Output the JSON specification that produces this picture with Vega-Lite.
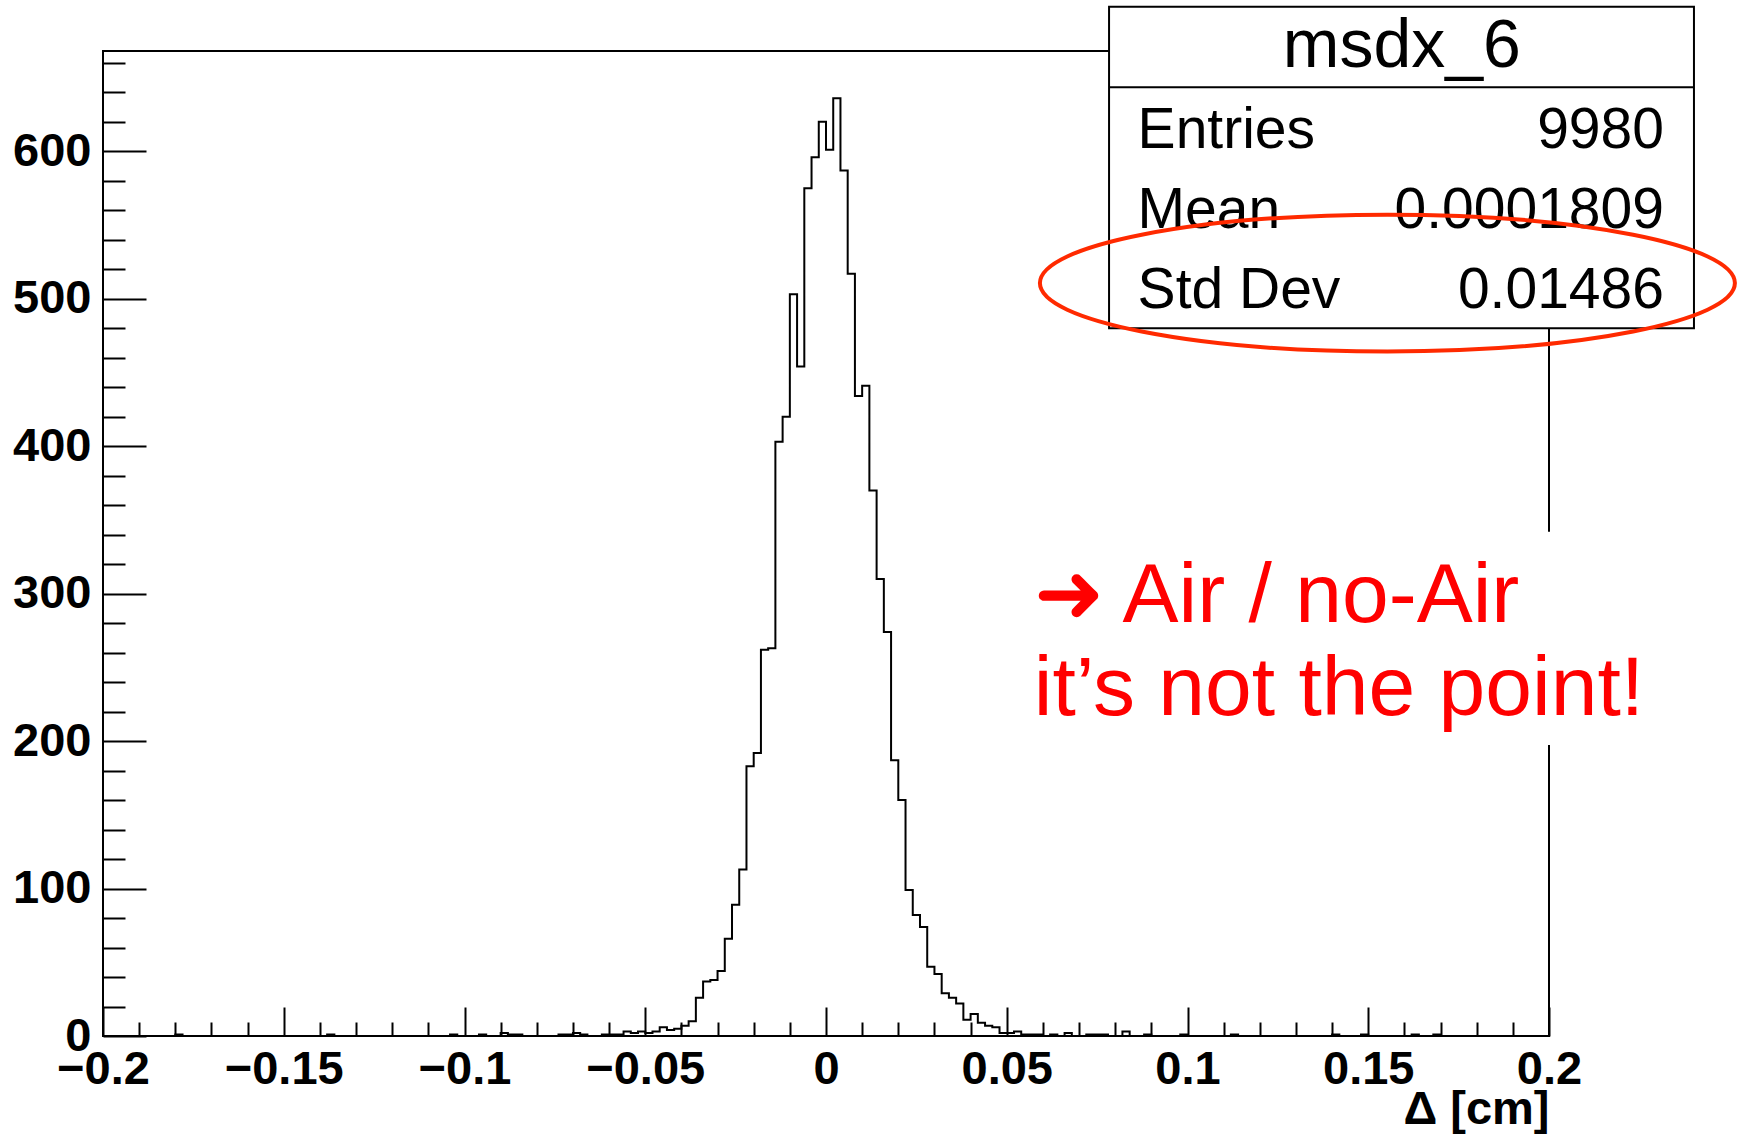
{
  "$schema": "https://vega.github.io/schema/vega-lite/v6.json",
  "autosize": {"type": "none"},
  "width": 1446,
  "height": 985,
  "padding": {"left": 103, "top": 51, "right": 195, "bottom": 100},
  "background": "white",
  "config": {"view": {"stroke": null}, "font": "Liberation Sans"},
  "datasets": {
    "one": [{}],
    "bins": [
      {"x":-0.2,"n":0},{"x":-0.198,"n":0},{"x":-0.196,"n":0},{"x":-0.194,"n":0},{"x":-0.192,"n":0},{"x":-0.19,"n":0},{"x":-0.188,"n":0},{"x":-0.186,"n":0},{"x":-0.184,"n":0},{"x":-0.182,"n":0},
      {"x":-0.18,"n":1},{"x":-0.178,"n":0},{"x":-0.176,"n":0},{"x":-0.174,"n":0},{"x":-0.172,"n":0},{"x":-0.17,"n":0},{"x":-0.168,"n":0},{"x":-0.166,"n":0},{"x":-0.164,"n":0},{"x":-0.162,"n":0},
      {"x":-0.16,"n":0},{"x":-0.158,"n":0},{"x":-0.156,"n":0},{"x":-0.154,"n":0},{"x":-0.152,"n":0},{"x":-0.15,"n":0},{"x":-0.148,"n":0},{"x":-0.146,"n":0},{"x":-0.144,"n":0},{"x":-0.142,"n":0},
      {"x":-0.14,"n":0},{"x":-0.138,"n":1},{"x":-0.136,"n":0},{"x":-0.134,"n":0},{"x":-0.132,"n":0},{"x":-0.13,"n":0},{"x":-0.128,"n":0},{"x":-0.126,"n":0},{"x":-0.124,"n":0},{"x":-0.122,"n":0},
      {"x":-0.12,"n":0},{"x":-0.118,"n":0},{"x":-0.116,"n":0},{"x":-0.114,"n":0},{"x":-0.112,"n":0},{"x":-0.11,"n":0},{"x":-0.108,"n":0},{"x":-0.106,"n":0},{"x":-0.104,"n":1},{"x":-0.102,"n":0},
      {"x":-0.1,"n":0},{"x":-0.098,"n":0},{"x":-0.096,"n":1},{"x":-0.094,"n":0},{"x":-0.092,"n":0},{"x":-0.09,"n":2},{"x":-0.088,"n":1},{"x":-0.086,"n":1},{"x":-0.084,"n":0},{"x":-0.082,"n":0},
      {"x":-0.08,"n":0},{"x":-0.078,"n":0},{"x":-0.076,"n":0},{"x":-0.074,"n":1},{"x":-0.072,"n":1},{"x":-0.07,"n":2},{"x":-0.068,"n":1},{"x":-0.066,"n":0},{"x":-0.064,"n":0},{"x":-0.062,"n":1},
      {"x":-0.06,"n":1},{"x":-0.058,"n":1},{"x":-0.056,"n":3},{"x":-0.054,"n":2},{"x":-0.052,"n":3},{"x":-0.05,"n":2},{"x":-0.048,"n":3},{"x":-0.046,"n":6},{"x":-0.044,"n":4},{"x":-0.042,"n":5},
      {"x":-0.04,"n":7},{"x":-0.038,"n":10},{"x":-0.036,"n":26},{"x":-0.034,"n":37},{"x":-0.032,"n":38},{"x":-0.03,"n":44},{"x":-0.028,"n":66},{"x":-0.026,"n":89},{"x":-0.024,"n":113},{"x":-0.022,"n":183},
      {"x":-0.02,"n":192},{"x":-0.018,"n":262},{"x":-0.016,"n":263},{"x":-0.014,"n":403},{"x":-0.012,"n":420},{"x":-0.01,"n":503},{"x":-0.008,"n":454},{"x":-0.006,"n":575},{"x":-0.004,"n":596},{"x":-0.002,"n":620},
      {"x":0,"n":601},{"x":0.002,"n":636},{"x":0.004,"n":587},{"x":0.006,"n":517},{"x":0.008,"n":434},{"x":0.01,"n":441},{"x":0.012,"n":370},{"x":0.014,"n":310},{"x":0.016,"n":274},{"x":0.018,"n":187},
      {"x":0.02,"n":160},{"x":0.022,"n":99},{"x":0.024,"n":82},{"x":0.026,"n":74},{"x":0.028,"n":47},{"x":0.03,"n":42},{"x":0.032,"n":29},{"x":0.034,"n":26},{"x":0.036,"n":22},{"x":0.038,"n":11},
      {"x":0.04,"n":15},{"x":0.042,"n":9},{"x":0.044,"n":7},{"x":0.046,"n":6},{"x":0.048,"n":2},{"x":0.05,"n":2},{"x":0.052,"n":3},{"x":0.054,"n":1},{"x":0.056,"n":1},{"x":0.058,"n":1},
      {"x":0.06,"n":0},{"x":0.062,"n":1},{"x":0.064,"n":0},{"x":0.066,"n":2},{"x":0.068,"n":0},{"x":0.07,"n":0},{"x":0.072,"n":1},{"x":0.074,"n":1},{"x":0.076,"n":1},{"x":0.078,"n":0},
      {"x":0.08,"n":0},{"x":0.082,"n":3},{"x":0.084,"n":0},{"x":0.086,"n":0},{"x":0.088,"n":1},{"x":0.09,"n":0},{"x":0.092,"n":0},{"x":0.094,"n":0},{"x":0.096,"n":0},{"x":0.098,"n":1},
      {"x":0.1,"n":0},{"x":0.102,"n":0},{"x":0.104,"n":0},{"x":0.106,"n":0},{"x":0.108,"n":0},{"x":0.11,"n":0},{"x":0.112,"n":1},{"x":0.114,"n":0},{"x":0.116,"n":0},{"x":0.118,"n":0},
      {"x":0.12,"n":0},{"x":0.122,"n":0},{"x":0.124,"n":0},{"x":0.126,"n":0},{"x":0.128,"n":0},{"x":0.13,"n":0},{"x":0.132,"n":0},{"x":0.134,"n":0},{"x":0.136,"n":0},{"x":0.138,"n":0},
      {"x":0.14,"n":1},{"x":0.142,"n":0},{"x":0.144,"n":0},{"x":0.146,"n":0},{"x":0.148,"n":1},{"x":0.15,"n":0},{"x":0.152,"n":0},{"x":0.154,"n":0},{"x":0.156,"n":0},{"x":0.158,"n":0},
      {"x":0.16,"n":0},{"x":0.162,"n":1},{"x":0.164,"n":0},{"x":0.166,"n":0},{"x":0.168,"n":1},{"x":0.17,"n":0},{"x":0.172,"n":0},{"x":0.174,"n":0},{"x":0.176,"n":0},{"x":0.178,"n":0},
      {"x":0.18,"n":0},{"x":0.182,"n":0},{"x":0.184,"n":0},{"x":0.186,"n":0},{"x":0.188,"n":0},{"x":0.19,"n":0},{"x":0.192,"n":0},{"x":0.194,"n":0},{"x":0.196,"n":0},{"x":0.198,"n":0},
      {"x":0.2,"n":0}
    ]
  },
  "resolve": {"axis": {"x": "independent", "y": "independent"}},
  "layer": [
    {
      "layer": [
        {
          "data": {"name": "bins"},
          "mark": {"type": "line", "interpolate": "step-after", "stroke": "black", "strokeWidth": 2},
          "encoding": {
            "x": {
              "field": "x", "type": "quantitative",
              "scale": {"domain": [-0.2, 0.2], "nice": false, "zero": false},
              "axis": {
                "orient": "bottom",
                "title": "Δ [cm]", "titleFont": "Liberation Sans", "titleFontWeight": "bold", "titleFontSize": 47, "titleColor": "black",
                "titleAnchor": "end", "titleAlign": "right", "titleBaseline": "alphabetic", "titleY": 87,
                "values": [-0.2,-0.15,-0.1,-0.05,0,0.05,0.1,0.15,0.2],
                "format": "~g",
                "domain": false, "grid": false,
                "tickColor": "black", "tickWidth": 2, "tickSize": -29,
                "labelFont": "Liberation Sans", "labelFontWeight": "bold", "labelFontSize": 47, "labelColor": "black",
                "labelFlush": false, "labelOverlap": false, "labelBound": false, "labelPadding": 39, "labelBaseline": "top"
              }
            },
            "y": {
              "field": "n", "type": "quantitative",
              "scale": {"domain": [0, 668], "nice": false, "zero": true},
              "axis": {
                "orient": "left",
                "title": null,
                "values": [0,100,200,300,400,500,600],
                "format": "d",
                "domain": false, "grid": false,
                "tickColor": "black", "tickWidth": 2, "tickSize": -43,
                "labelFont": "Liberation Sans", "labelFontWeight": "bold", "labelFontSize": 47, "labelColor": "black",
                "labelFlush": false, "labelOverlap": false, "labelBound": false, "labelPadding": 55, "labelBaseline": "middle"
              }
            }
          }
        },
        {
          "data": {"name": "one"},
          "mark": {"type": "rule", "stroke": "black", "strokeWidth": 2, "strokeCap": "square"},
          "encoding": {"x": {"datum": 0.2}, "y": {"datum": 0}, "y2": {"datum": 668}}
        },
        {
          "data": {"name": "one"},
          "mark": {"type": "rule", "stroke": "black", "strokeWidth": 2, "strokeCap": "square"},
          "encoding": {"y": {"datum": 0}, "x": {"datum": -0.2}, "x2": {"datum": 0.2}}
        },
        {
          "data": {"name": "one"},
          "mark": {"type": "rule", "stroke": "black", "strokeWidth": 2, "strokeCap": "square"},
          "encoding": {"y": {"datum": 668}, "x": {"datum": -0.2}, "x2": {"datum": 0.2}}
        },
        {
          "data": {"name": "one"},
          "mark": {"type": "rect", "fill": "white", "strokeWidth": 0},
          "encoding": {"x": {"datum": 0.0564}, "x2": {"datum": 0.22}, "y": {"datum": 342}, "y2": {"datum": 197.3}}
        },
        {
          "data": {"name": "one"},
          "mark": {"type": "text", "align": "left", "baseline": "alphabetic", "font": "Liberation Sans", "fontSize": 84, "lineHeight": 93, "fill": "#ff0000"},
          "encoding": {"x": {"datum": 0.0575}, "y": {"datum": 281}, "text": {"value": ["➜ Air / no-Air", "it’s not the point!"]}}
        },
        {
          "data": {"name": "one"},
          "mark": {"type": "rect", "fill": "white", "stroke": "black", "strokeWidth": 2},
          "encoding": {"x": {"datum": 0.0783}, "x2": {"datum": 0.2401}, "y": {"datum": 698}, "y2": {"datum": 479.9}}
        },
        {
          "data": {"name": "one"},
          "mark": {"type": "rule", "stroke": "black", "strokeWidth": 2},
          "encoding": {"y": {"datum": 643.4}, "x": {"datum": 0.0783}, "x2": {"datum": 0.2401}}
        },
        {
          "data": {"name": "one"},
          "mark": {"type": "text", "align": "center", "baseline": "alphabetic", "font": "Liberation Sans", "fontSize": 68, "fill": "black"},
          "encoding": {"x": {"datum": 0.1593}, "y": {"datum": 657.3}, "text": {"value": "msdx_6"}}
        },
        {
          "data": {"name": "one"},
          "mark": {"type": "text", "align": "left", "baseline": "alphabetic", "font": "Liberation Sans", "fontSize": 57, "fill": "black"},
          "encoding": {"x": {"datum": 0.0862}, "y": {"datum": 602}, "text": {"value": "Entries"}}
        },
        {
          "data": {"name": "one"},
          "mark": {"type": "text", "align": "right", "baseline": "alphabetic", "font": "Liberation Sans", "fontSize": 57, "fill": "black"},
          "encoding": {"x": {"datum": 0.2318}, "y": {"datum": 602}, "text": {"value": "9980"}}
        },
        {
          "data": {"name": "one"},
          "mark": {"type": "text", "align": "left", "baseline": "alphabetic", "font": "Liberation Sans", "fontSize": 57, "fill": "black"},
          "encoding": {"x": {"datum": 0.0862}, "y": {"datum": 547.7}, "text": {"value": "Mean"}}
        },
        {
          "data": {"name": "one"},
          "mark": {"type": "text", "align": "right", "baseline": "alphabetic", "font": "Liberation Sans", "fontSize": 57, "fill": "black"},
          "encoding": {"x": {"datum": 0.2318}, "y": {"datum": 547.7}, "text": {"value": "0.0001809"}}
        },
        {
          "data": {"name": "one"},
          "mark": {"type": "text", "align": "left", "baseline": "alphabetic", "font": "Liberation Sans", "fontSize": 57, "fill": "black"},
          "encoding": {"x": {"datum": 0.0862}, "y": {"datum": 493.5}, "text": {"value": "Std Dev"}}
        },
        {
          "data": {"name": "one"},
          "mark": {"type": "text", "align": "right", "baseline": "alphabetic", "font": "Liberation Sans", "fontSize": 57, "fill": "black"},
          "encoding": {"x": {"datum": 0.2318}, "y": {"datum": 493.5}, "text": {"value": "0.01486"}}
        },
        {
          "data": {"name": "one"},
          "mark": {"type": "point", "filled": false, "stroke": "#ff2a00", "strokeWidth": 4, "opacity": 1,
                   "shape": "M-1,0C-1,-0.1088,-0.5523,-0.197,0,-0.197C0.5523,-0.197,1,-0.1088,1,0C1,0.1088,0.5523,0.197,0,0.197C-0.5523,0.197,-1,0.1088,-1,0Z",
                   "size": 483025},
          "encoding": {"x": {"datum": 0.1553}, "y": {"datum": 510.6}}
        }
      ]
    },
    {
      "data": {"name": "one"},
      "mark": {"type": "rule", "stroke": "black", "strokeWidth": 2, "strokeCap": "square"},
      "encoding": {
        "x": {
          "datum": -0.2, "type": "quantitative",
          "axis": {
            "orient": "bottom", "title": null, "labels": false, "domain": false, "grid": false,
            "values": [-0.19,-0.18,-0.17,-0.16,-0.14,-0.13,-0.12,-0.11,-0.09,-0.08,-0.07,-0.06,-0.04,-0.03,-0.02,-0.01,0.01,0.02,0.03,0.04,0.06,0.07,0.08,0.09,0.11,0.12,0.13,0.14,0.16,0.17,0.18,0.19],
            "tickColor": "black", "tickWidth": 2, "tickSize": -14
          }
        },
        "y": {
          "datum": 0, "type": "quantitative",
          "axis": {
            "orient": "left", "title": null, "labels": false, "domain": false, "grid": false,
            "values": [20,40,60,80,120,140,160,180,220,240,260,280,320,340,360,380,420,440,460,480,520,540,560,580,620,640,660],
            "tickColor": "black", "tickWidth": 2, "tickSize": -22
          }
        },
        "y2": {"datum": 668}
      }
    }
  ]
}
